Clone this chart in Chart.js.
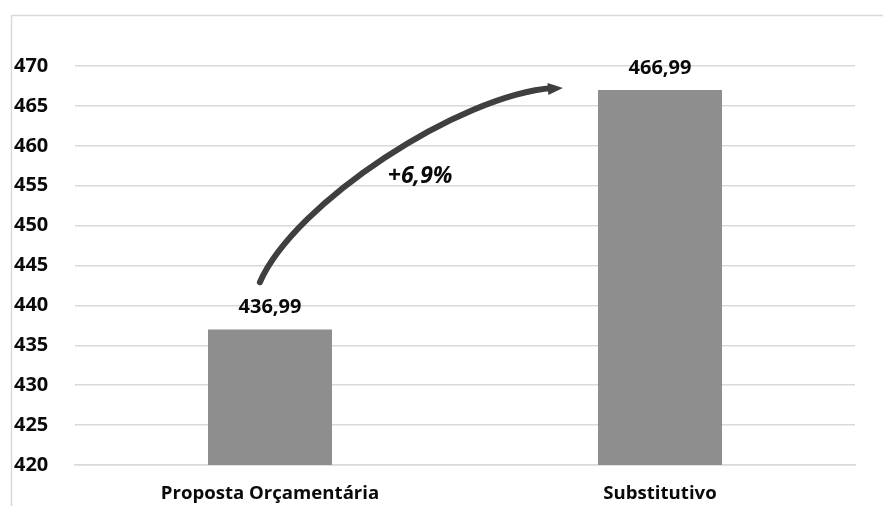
<!DOCTYPE html>
<html>
<head>
<meta charset="utf-8">
<script src="https://cdn.jsdelivr.net/npm/chart.js@4/dist/chart.umd.min.js"></script>
<style>
  html, body { margin: 0; padding: 0; background: #ffffff; }
  #wrap { width: 883px; height: 506px; }
</style>
</head>
<body>
<div id="wrap"><canvas id="c" width="883" height="506"></canvas></div>
<script>
// Budget comparison: proposal vs. substitute bill
const categories = ['Proposta Orçamentária', 'Substitutivo'];
const values = [436.99, 466.99];
const yTicks = { min: 420, max: 470, step: 5 };
const changeLabel = '+6,9%';

// Curved growth arrow, expressed as (category index, value) pairs
const arrowPath = [
  [-0.026, 442.9],
  [0.064, 452.9],
  [0.487, 466.4],
  [0.751, 467.25]
];
const arrowLabelAt = [0.385, 456.2];

const FONT = '"Open Sans", Lato, sans-serif';
const BAR = '#8e8e8e';
const GRID = '#d9d9d9';
const INK = '#0a0a0a';

const fmt = v => v.toFixed(2).replace('.', ',');

const framePlugin = {
  id: 'frame',
  beforeDraw(chart) {
    const ctx = chart.ctx;
    ctx.save();
    ctx.strokeStyle = GRID;
    ctx.lineWidth = 1.5;
    ctx.beginPath();
    ctx.moveTo(11.5, chart.height);
    ctx.lineTo(11.5, 15.5);
    ctx.lineTo(chart.width, 15.5);
    ctx.stroke();
    ctx.restore();
  }
};

const valueLabels = {
  id: 'valueLabels',
  afterDatasetsDraw(chart) {
    const ctx = chart.ctx;
    const meta = chart.getDatasetMeta(0);
    ctx.save();
    ctx.font = 'bold 20px ' + FONT;
    ctx.fillStyle = INK;
    ctx.textAlign = 'center';
    ctx.textBaseline = 'middle';
    meta.data.forEach((bar, i) => {
      ctx.fillText(fmt(values[i]), bar.x, bar.y - 22);
    });
    ctx.restore();
  }
};

const growthArrow = {
  id: 'growthArrow',
  afterDatasetsDraw(chart) {
    const xs = chart.scales.x, ys = chart.scales.y;
    const pts = arrowPath.map(([i, v]) => [xs.getPixelForValue(i), ys.getPixelForValue(v)]);
    const ctx = chart.ctx;
    ctx.save();
    ctx.strokeStyle = '#3f3f3f';
    ctx.lineWidth = 6;
    ctx.lineCap = 'round';
    ctx.beginPath();
    ctx.moveTo(pts[0][0], pts[0][1]);
    ctx.bezierCurveTo(pts[1][0], pts[1][1], pts[2][0], pts[2][1], pts[3][0] - 10, pts[3][1]);
    ctx.stroke();
    // arrow head
    const tip = pts[3];
    const dx = tip[0] - pts[2][0], dy = tip[1] - pts[2][1];
    const len = Math.hypot(dx, dy);
    const ux = dx / len, uy = dy / len;
    const bx = tip[0] - ux * 15, by = tip[1] - uy * 15;
    ctx.fillStyle = '#3f3f3f';
    ctx.beginPath();
    ctx.moveTo(tip[0], tip[1]);
    ctx.lineTo(bx - uy * 6, by + ux * 6);
    ctx.lineTo(bx + uy * 6, by - ux * 6);
    ctx.closePath();
    ctx.fill();
    // percentage label
    ctx.font = 'italic bold 23px ' + FONT;
    ctx.fillStyle = INK;
    ctx.textAlign = 'center';
    ctx.textBaseline = 'middle';
    ctx.fillText(changeLabel, xs.getPixelForValue(arrowLabelAt[0]), ys.getPixelForValue(arrowLabelAt[1]));
    ctx.restore();
  }
};

new Chart(document.getElementById('c'), {
  type: 'bar',
  data: {
    labels: categories,
    datasets: [{
      data: values,
      backgroundColor: BAR,
      borderWidth: 0,
      barPercentage: 0.318,
      categoryPercentage: 1
    }]
  },
  options: {
    responsive: false,
    animation: false,
    layout: { padding: { top: 66, right: 28, bottom: 0, left: 14 } },
    plugins: { legend: { display: false }, tooltip: { enabled: false } },
    scales: {
      x: {
        grid: { display: false, drawTicks: false },
        border: { display: true, color: GRID, width: 1.5 },
        ticks: {
          padding: 18,
          color: INK,
          font: { family: FONT, size: 18.6, weight: 'bold' },
          maxRotation: 0
        },
        afterFit(scale) { scale.height = 41; }
      },
      y: {
        min: yTicks.min,
        max: yTicks.max,
        grid: { color: GRID, lineWidth: 1.5, drawTicks: false },
        border: { display: false },
        ticks: {
          stepSize: yTicks.step,
          padding: 0,
          crossAlign: 'far',
          color: INK,
          font: { family: FONT, size: 20, weight: 'bold' }
        },
        afterFit(scale) { scale.width = 61; }
      }
    }
  },
  plugins: [framePlugin, valueLabels, growthArrow]
});
</script>
</body>
</html>
